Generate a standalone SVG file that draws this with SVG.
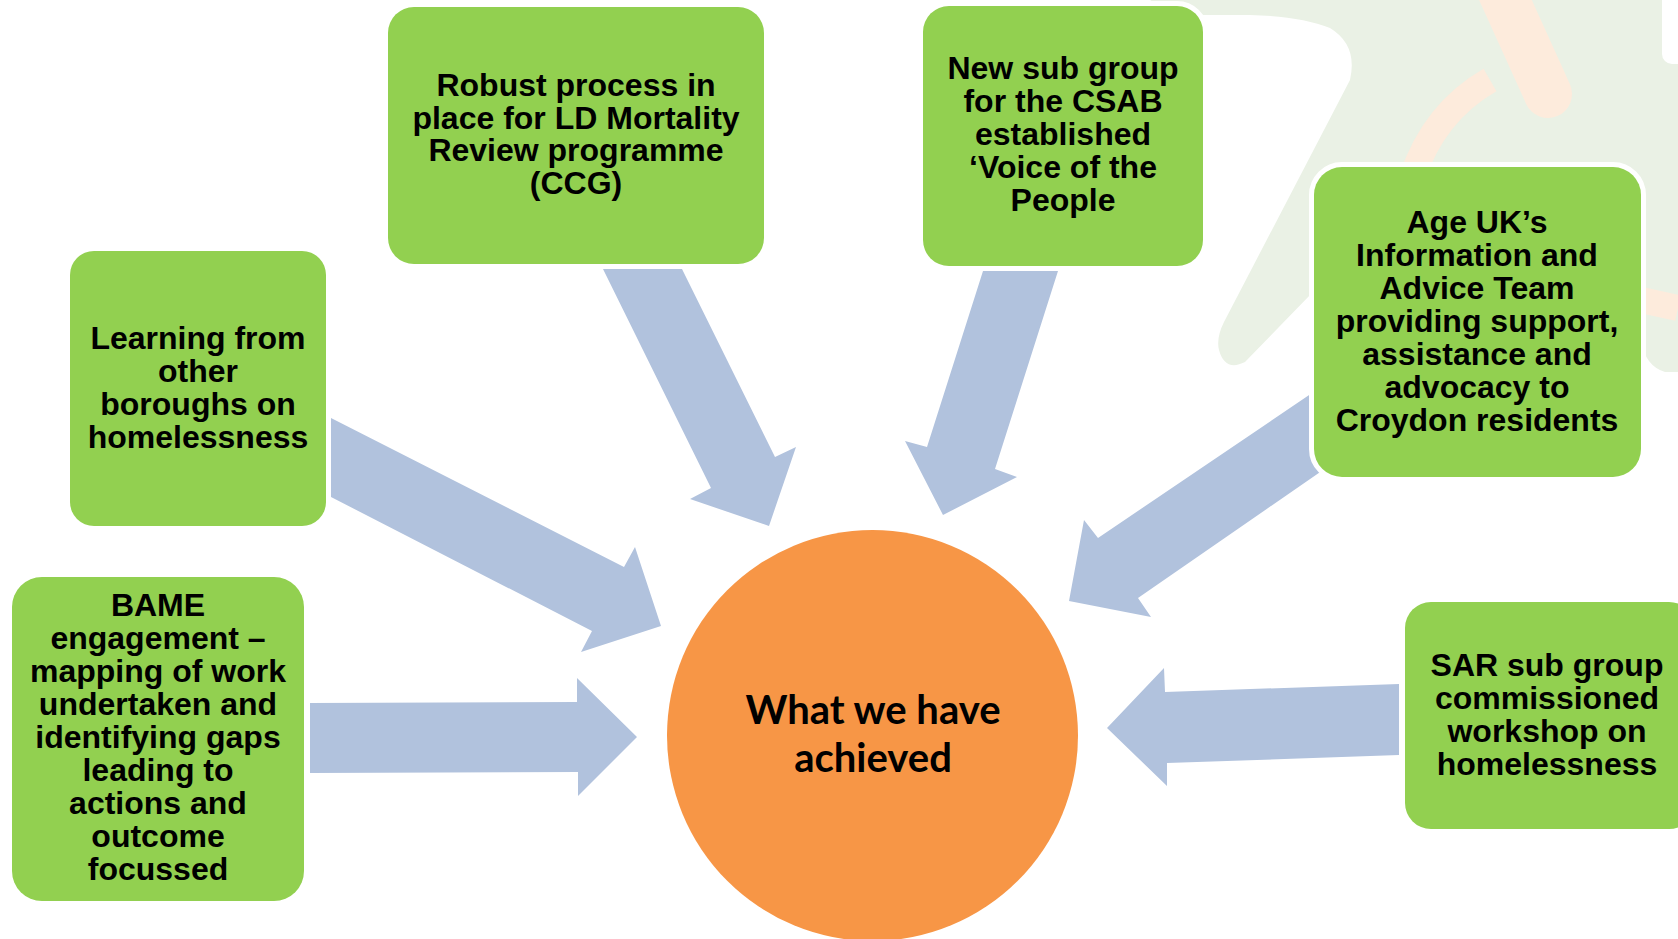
<svg xmlns="http://www.w3.org/2000/svg" width="1678" height="939" viewBox="0 0 1678 939">
<style>
.box{fill:#92D050;stroke:#FFFFFF;stroke-width:10;paint-order:stroke}
.arr{fill:#B1C2DD}
.t{font-family:"Liberation Sans",Arial,sans-serif;font-weight:bold;font-size:32px;fill:#000;text-anchor:middle}
.c{font-family:Lato,"Open Sans",sans-serif;font-weight:bold;font-size:40px;fill:#000;text-anchor:middle}
.bgG{fill:#EAF1E5}
.bgP{fill:none;stroke:#FDEBDC}
</style>
<rect width="1678" height="939" fill="#FFFFFF"/>
<g id="background">
<path class="bgG" d="M1150 0 L1678 0 L1678 372 L1665 372 Q1645 366 1641 340 L1312 293 L1245 362 Q1225 372 1219 350 Q1216 338 1224 322 L1350 80 Q1358 45 1330 28 Q1300 16 1250 15 L1203 15 L1160 6 Z"/>
<path class="bgP" d="M1412 178 Q1434 112 1490 80" stroke-width="26"/>
<path class="bgP" d="M1500 -12 L1548 94" stroke-width="48" stroke-linecap="round"/>
<path class="bgP" d="M1641 300 L1678 308" stroke-width="26"/>
<rect x="1662" y="-20" width="40" height="84" rx="10" fill="#FFFFFF"/>
</g>
<g id="connectors">
<polygon class="arr" points="603,269 682,269 775,457 796,447 769,526 690,499 711,488"/>
<polygon class="arr" points="983,271 1058,271 995,469 1017,477 943,515 905,441 927,447"/>
<polygon class="arr" points="1318,389 1098,538 1084,520 1069,601 1151,617 1138,598 1326,468"/>
<polygon class="arr" points="331,418 624,567 635,547 661,626 581,652 592,631 331,497"/>
<polygon class="arr" points="310,703 577,702 577,678 637,737 578,796 578,772 310,773"/>
<polygon class="arr" points="1399,684 1165,692 1164,668 1107,728 1167,786 1167,763 1399,755"/>
</g>
<g id="node-robust">
<rect class="box" x="388" y="7" width="376" height="257" rx="26"/>
<text class="t" x="576" y="96">Robust process in</text>
<text class="t" x="576" y="128.5">place for LD Mortality</text>
<text class="t" x="576" y="161">Review programme</text>
<text class="t" x="576" y="193.5">(CCG)</text>
</g>
<g id="node-newsub">
<rect class="box" x="923" y="6" width="280" height="260" rx="26"/>
<text class="t" x="1063" y="79">New sub group</text>
<text class="t" x="1063" y="112">for the CSAB</text>
<text class="t" x="1063" y="145">established</text>
<text class="t" x="1063" y="178">‘Voice of the</text>
<text class="t" x="1063" y="211">People</text>
</g>
<g id="node-ageuk">
<rect class="box" x="1314" y="167" width="327" height="310" rx="28"/>
<text class="t" x="1477" y="233">Age UK’s</text>
<text class="t" x="1477" y="266">Information and</text>
<text class="t" x="1477" y="299">Advice Team</text>
<text class="t" x="1477" y="332">providing support,</text>
<text class="t" x="1477" y="365">assistance and</text>
<text class="t" x="1477" y="398">advocacy to</text>
<text class="t" x="1477" y="431">Croydon residents</text>
</g>
<g id="node-learning">
<rect class="box" x="70" y="251" width="256" height="275" rx="24"/>
<text class="t" x="198" y="349">Learning from</text>
<text class="t" x="198" y="382">other</text>
<text class="t" x="198" y="415">boroughs on</text>
<text class="t" x="198" y="448">homelessness</text>
</g>
<g id="node-bame">
<rect class="box" x="12" y="577" width="292" height="324" rx="30"/>
<text class="t" x="158" y="616">BAME</text>
<text class="t" x="158" y="649">engagement –</text>
<text class="t" x="158" y="682">mapping of work</text>
<text class="t" x="158" y="715">undertaken and</text>
<text class="t" x="158" y="748">identifying gaps</text>
<text class="t" x="158" y="781">leading to</text>
<text class="t" x="158" y="814">actions and</text>
<text class="t" x="158" y="847">outcome</text>
<text class="t" x="158" y="880">focussed</text>
</g>
<g id="node-sar">
<rect class="box" x="1405" y="602" width="290" height="227" rx="26"/>
<text class="t" x="1547" y="676">SAR sub group</text>
<text class="t" x="1547" y="709">commissioned</text>
<text class="t" x="1547" y="742">workshop on</text>
<text class="t" x="1547" y="775">homelessness</text>
</g>
<g id="node-center">
<circle cx="872.5" cy="735.5" r="205.5" fill="#F79646"/>
<text class="c" x="873" y="724">What we have</text>
<text class="c" x="873" y="772">achieved</text>
</g>
</svg>
